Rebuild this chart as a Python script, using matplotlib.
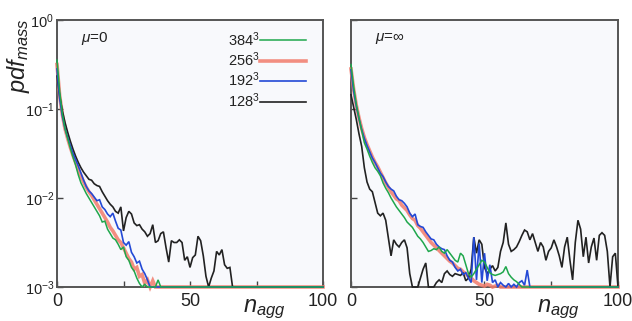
import numpy as np
import matplotlib
matplotlib.use("Agg")
import matplotlib.pyplot as plt
from matplotlib.ticker import FixedLocator, FixedFormatter, LogLocator, NullLocator

plt.rcParams['font.family'] = ['Liberation Sans', 'DejaVu Sans']
plt.rcParams['mathtext.fontset'] = 'custom'
plt.rcParams['mathtext.rm'] = 'Liberation Sans'
plt.rcParams['mathtext.it'] = 'Liberation Sans:italic'

# ---- data (log10 of pdf_mass, index = n_agg 0,1,2,...; rest sits at the 1e-3 floor) ----
labels = [r'384$^3$', r'256$^3$', r'192$^3$', r'128$^3$']
colors = ['#1fa74c', '#f27c6c', '#2349d6', '#222222']
panel_titles = [r'$\mu$=0', r'$\mu$=$\infty$']
x_ticks = [0, 25, 50, 75, 100]
x_ticklabels = ['0', '', '50', '', '100']

mu0_384 = [-0.45, -0.80, -1.05, -1.22, -1.33, -1.44, -1.54, -1.63, -1.74, -1.83, -1.89, -1.95, -2.00,
           -2.05, -2.10, -2.15, -2.20, -2.27, -2.26, -2.35, -2.40, -2.45, -2.47, -2.52, -2.58, -2.55,
           -2.66, -2.70, -2.78, -2.82, -2.90, -2.96, -3.0, -2.97, -3.0, -3.0, -3.0, -3.0, -2.92, -3.0]
mu0_256 = [-0.50, -0.85, -1.06, -1.22, -1.33, -1.43, -1.52, -1.60, -1.68, -1.75, -1.82, -1.88, -1.93,
           -1.97, -2.02, -2.07, -2.12, -2.17, -2.22, -2.27, -2.33, -2.37, -2.42, -2.47, -2.50, -2.56,
           -2.62, -2.68, -2.72, -2.80, -2.78, -2.88, -2.86, -2.96, -2.92, -3.0, -2.93, -3.0]
mu0_192 = [-0.55, -0.88, -1.08, -1.22, -1.32, -1.41, -1.50, -1.57, -1.64, -1.72, -1.80, -1.87, -1.92,
           -1.95, -1.99, -2.03, -2.02, -2.10, -2.13, -2.18, -2.21, -2.17, -2.26, -2.34, -2.36, -2.50,
           -2.53, -2.49, -2.61, -2.66, -2.73, -2.71, -2.80, -2.85, -2.92, -3.0]
mu0_128 = [-0.63, -0.85, -1.02, -1.15, -1.26, -1.36, -1.45, -1.53, -1.60, -1.66, -1.71, -1.75, -1.79,
           -1.80, -1.84, -1.86, -1.87, -1.93, -1.98, -2.03, -2.07, -2.10, -2.15, -2.17, -2.10, -2.37,
           -2.22, -2.15, -2.18, -2.28, -2.31, -2.30, -2.35, -2.38, -2.43, -2.40, -2.30, -2.50, -2.48,
           -2.40, -2.38, -2.56, -2.72, -2.48, -2.50, -2.50, -2.47, -2.50, -2.70, -2.66, -2.78, -2.67,
           -2.64, -2.43, -2.48, -2.65, -2.88, -3.0, -2.90, -2.82, -2.60, -2.64, -2.58, -2.75, -2.79,
           -2.78, -3.0]

muinf_384 = [-0.50, -0.75, -0.95, -1.10, -1.24, -1.38, -1.45, -1.53, -1.60, -1.66, -1.70, -1.75, -1.83,
             -1.89, -1.94, -2.00, -2.05, -2.10, -2.14, -2.18, -2.22, -2.27, -2.30, -2.33, -2.38, -2.43,
             -2.46, -2.50, -2.55, -2.60, -2.59, -2.57, -2.58, -2.55, -2.60, -2.62, -2.58, -2.62, -2.66,
             -2.70, -2.72, -2.62, -2.65, -2.75, -2.85, -2.89, -2.85, -2.80, -2.75, -2.70, -2.72, -2.78,
             -2.84, -2.86, -2.87, -2.86, -2.85, -2.83, -2.77, -2.85, -2.89, -2.92, -2.94, -2.97, -3.0]
muinf_256 = [-0.55, -0.78, -0.96, -1.10, -1.22, -1.32, -1.40, -1.47, -1.54, -1.60, -1.65, -1.71, -1.77,
             -1.83, -1.88, -1.93, -1.97, -2.01, -2.03, -2.08, -2.11, -2.14, -2.19, -2.23, -2.25, -2.31,
             -2.34, -2.38, -2.42, -2.46, -2.50, -2.53, -2.56, -2.59, -2.62, -2.65, -2.68, -2.71, -2.73,
             -2.76, -2.79, -2.80, -2.83, -2.85, -2.88, -2.90, -2.93, -2.95, -2.97, -2.98, -2.99, -2.97,
             -2.98, -3.0, -2.99, -2.98, -3.0]
muinf_192 = [-0.56, -0.80, -0.97, -1.11, -1.23, -1.33, -1.41, -1.48, -1.55, -1.60, -1.66, -1.72, -1.76,
             -1.82, -1.87, -1.90, -1.92, -1.98, -2.02, -2.03, -2.06, -2.10, -2.17, -2.21, -2.18, -2.30,
             -2.32, -2.33, -2.38, -2.42, -2.46, -2.47, -2.52, -2.55, -2.57, -2.58, -2.65, -2.70, -2.72,
             -2.78, -2.82, -2.80, -2.86, -2.84, -2.90, -2.95, -2.44, -2.92, -2.51, -2.95, -2.62, -2.93,
             -2.75, -2.95, -2.92, -3.0, -2.95, -2.98, -3.0, -2.96, -3.0, -2.97, -3.0, -2.95, -2.93,
             -2.98, -2.81, -3.0]
muinf_128 = [-0.84, -0.98, -1.12, -1.28, -1.42, -1.66, -1.82, -1.90, -1.93, -2.05, -2.17, -2.20, -2.17,
             -2.25, -2.45, -2.65, -2.47, -2.52, -2.55, -2.50, -2.47, -2.56, -2.85, -3.0, -3.0, -3.0,
             -2.90, -2.80, -2.73, -3.0, -3.0, -3.0, -2.95, -2.92, -2.95, -2.85, -2.82, -2.86, -2.88,
             -2.85, -2.86, -2.87, -2.84, -2.93, -2.90, -2.80, -2.44, -2.62, -2.47, -2.52, -2.78, -2.85,
             -2.80, -2.76, -2.82, -2.78, -2.60, -2.50, -2.28, -2.52, -2.60, -2.58, -2.55, -2.49, -2.42,
             -2.36, -2.38, -2.47, -2.40, -2.50, -2.60, -2.50, -2.55, -2.70, -2.60, -2.56, -2.47, -2.55,
             -2.65, -2.78, -2.55, -2.44, -2.70, -2.92, -2.50, -2.25, -2.35, -2.66, -2.44, -2.73, -2.55,
             -2.45, -2.70, -2.42, -2.39, -2.42, -2.60, -3.0, -2.66, -2.62, -3.0]

FLOOR = -3.0
N = 101
panels = [[mu0_384, mu0_256, mu0_192, mu0_128], [muinf_384, muinf_256, muinf_192, muinf_128]]


def full_series(vals):
    out = np.full(N, FLOOR)
    out[:len(vals)] = vals
    return 10.0 ** out


fig = plt.figure(figsize=(6.32, 3.21), dpi=100)
fig.patch.set_facecolor('white')
W, H = 632, 321
boxes = [(57, 20, 266, 267), (351, 20, 267, 267)]
n = np.arange(N)
draw_order = [1, 3, 2, 0]  # red underneath, then black, blue, green on top
widths = [1.1, 2.6, 1.2, 1.2]
alphas = [1.0, 0.85, 1.0, 1.0]

for p, (x0, y0, w, h) in enumerate(boxes):
    ax = fig.add_axes([x0 / W, 1 - (y0 + h) / H, w / W, h / H])
    ax.set_facecolor('#f8f9fc')
    handles = {}
    for i in draw_order:
        ln, = ax.plot(n, full_series(panels[p][i]), color=colors[i], lw=widths[i],
                      alpha=alphas[i], clip_on=False, zorder=3 + draw_order.index(i) * 0.1,
                      solid_joinstyle='miter')
        handles[i] = ln
    ax.set_yscale('log')
    ax.set_ylim(1e-3, 1)
    ax.set_xlim(0, 100)
    ax.xaxis.set_major_locator(FixedLocator(x_ticks))
    ax.xaxis.set_major_formatter(FixedFormatter(x_ticklabels))
    ax.yaxis.set_major_locator(LogLocator(base=10, numticks=10))
    ax.yaxis.set_minor_locator(NullLocator())
    ax.tick_params(axis='both', direction='in', length=4, width=1.0, color='#444444')
    ax.tick_params(axis='x', labelsize=13, pad=4, colors='#444444', labelcolor='#222222')
    ax.tick_params(axis='y', labelsize=10.5, pad=2, colors='#444444', labelcolor='#222222')
    if p == 1:
        ax.tick_params(axis='y', labelleft=False)
    for s in ax.spines.values():
        s.set_color('#555555')
        s.set_linewidth(1.4)
    ax.text(9, 0.62, panel_titles[p], fontsize=11, ha='left', va='center', color='#222222')
    if p == 0:
        leg = ax.legend([handles[i] for i in range(4)], labels, loc='upper right',
                        frameon=False, markerfirst=False, fontsize=10.5, handlelength=3.2,
                        handletextpad=0.0, labelspacing=0.12, borderaxespad=0.1,
                        bbox_to_anchor=(0.965, 0.99))
        for t in leg.get_texts():
            t.set_color('#222222')

# axis labels
fig.text(264 / W, 1 - 309 / H, r'$n_{agg}$', fontsize=17, ha='center', va='center', color='#222222')
fig.text(558 / W, 1 - 309 / H, r'$n_{agg}$', fontsize=17, ha='center', va='center', color='#222222')
fig.text(19 / W, 1 - 18 / H, r'$pdf_{mass}$', fontsize=17, rotation=90, ha='center', va='top',
         color='#222222')

fig.savefig('out.png', dpi=100, facecolor='white')
